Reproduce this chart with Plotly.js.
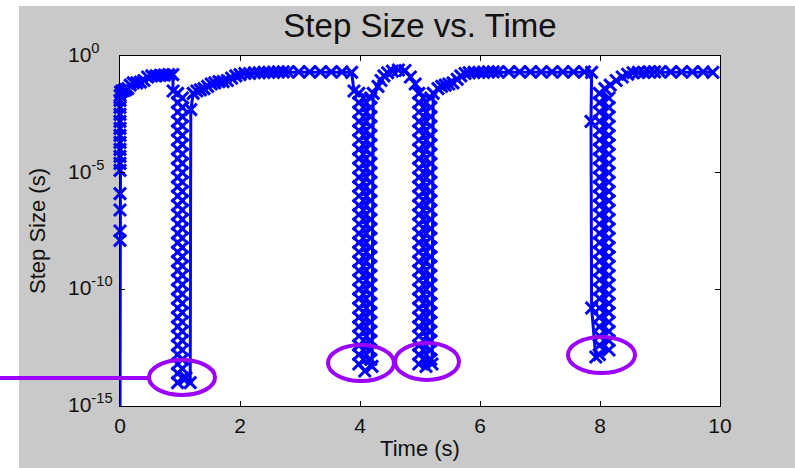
<!DOCTYPE html>
<html>
<head>
<meta charset="utf-8">
<script src="https://cdn.plot.ly/plotly-3.0.1.min.js"></script>
<style>html,body{margin:0;padding:0;background:#fff;}#chart{width:795px;height:468px;}</style>
</head>
<body>
<div id="chart"></div>
<script>
// ---- data (time in s, step size as log10 exponent) ----
const timeStart = [0,0,0,0,0,0,0,0,0,0,0,0,0,0,0,0,0.002,0.01,0.03,0.06,0.09,0.13,0.17,0.22,0.28,0.34,0.4,0.46,0.53,0.6,0.67,0.74,0.81,0.88];
const expStart  = [-16,-7.9,-7.5,-6.6,-5.9,-4.9,-4.6,-4.3,-4.0,-3.7,-3.4,-3.1,-2.8,-2.5,-2.2,-1.9,-1.7,-1.55,-1.5,-1.48,-1.45,-1.4,-1.25,-1.15,-1.15,-1.12,-1.05,-0.9,-0.85,-0.85,-0.83,-0.82,-0.8,-0.8];

const timeEvent1 = [0.885,
  0.96,1.04,0.96,1.04,0.96,1.04,0.96,1.04,0.96,1.04,0.96,1.04,0.96,1.04,0.96,1.04,0.96,1.04,0.96,1.04,
  0.96,1.04,0.96,1.04,0.96,1.04,0.96,1.04,0.96,1.04,0.96,1.04,0.96,1.04,0.96,1.04,0.96,1.04,0.96,1.04,
  0.96,1.04,0.96,1.04,0.96,1.04,0.96,1.04,0.96,1.04,0.96,1.04,0.96,1.04,0.96,1.04,0.96,1.04,0.96,1.04,
  0.96,1.04,0.96,
  1.1,1.17,1.18,1.22,1.28,1.34,1.4,1.46,1.52,1.58,1.65,1.72,1.79,1.86,1.93,2.0,2.08,2.16,2.24,2.32,2.4,2.48,2.56,2.64,2.72,2.8,2.98,3.16,3.34,3.52,3.7,3.86];
const expEvent1  = [-1.5,
  -1.6,-1.8,-2.0,-2.2,-2.4,-2.6,-2.8,-3.0,-3.2,-3.4,-3.6,-3.8,-4.0,-4.2,-4.4,-4.6,-4.8,-5.0,-5.2,-5.4,
  -5.6,-5.8,-6.0,-6.2,-6.4,-6.6,-6.8,-7.0,-7.2,-7.4,-7.6,-7.8,-8.0,-8.2,-8.4,-8.6,-8.8,-9.0,-9.2,-9.4,
  -9.6,-9.8,-10.0,-10.2,-10.4,-10.6,-10.8,-11.0,-11.2,-11.4,-11.6,-11.8,-12.0,-12.2,-12.4,-12.6,-12.8,-13.0,-13.2,-13.4,
  -13.6,-13.8,-14.0,
  -13.8,-14.0,-2.3,-1.6,-1.5,-1.45,-1.4,-1.3,-1.2,-1.15,-1.1,-1.1,-1.05,-0.95,-0.85,-0.8,-0.75,-0.75,-0.72,-0.72,-0.7,-0.7,-0.7,-0.68,-0.68,-0.68,-0.68,-0.68,-0.68,-0.68,-0.68,-0.7];

const timeEvent2 = [3.9,
  3.98,4.18,3.98,4.18,3.98,4.18,3.98,4.18,3.98,4.18,3.98,4.18,3.98,4.18,3.98,4.18,3.98,4.18,3.98,4.18,
  3.98,4.18,3.98,4.18,3.98,4.18,3.98,4.18,3.98,4.18,3.98,4.18,3.98,4.18,3.98,4.18,3.98,4.18,3.98,4.18,
  3.98,4.18,3.98,4.18,3.98,4.18,3.98,4.18,3.98,4.18,3.98,4.18,3.98,4.18,3.98,4.18,3.98,4.18,
  3.98,
  4.08,4.2,4.22,4.3,4.35,4.4,4.46,4.54,4.64,4.75,4.84,4.92];
const expEvent2  = [-1.5,
  -1.6,-1.8,-2.0,-2.2,-2.4,-2.6,-2.8,-3.0,-3.2,-3.4,-3.6,-3.8,-4.0,-4.2,-4.4,-4.6,-4.8,-5.0,-5.2,-5.4,
  -5.6,-5.8,-6.0,-6.2,-6.4,-6.6,-6.8,-7.0,-7.2,-7.4,-7.6,-7.8,-8.0,-8.2,-8.4,-8.6,-8.8,-9.0,-9.2,-9.4,
  -9.6,-9.8,-10.0,-10.2,-10.4,-10.6,-10.8,-11.0,-11.2,-11.4,-11.6,-11.8,-12.0,-12.2,-12.4,-12.6,-12.8,-13.0,
  -13.2,
  -13.5,-13.3,-1.6,-1.3,-1.05,-0.85,-0.72,-0.65,-0.6,-0.62,-0.9,-1.2];

const timeEvent3 = [
  4.98,5.18,4.98,5.18,4.98,5.18,4.98,5.18,4.98,5.18,4.98,5.18,4.98,5.18,4.98,5.18,4.98,5.18,4.98,5.18,
  4.98,5.18,4.98,5.18,4.98,5.18,4.98,5.18,4.98,5.18,4.98,5.18,4.98,5.18,4.98,5.18,4.98,5.18,4.98,5.18,
  4.98,5.18,4.98,5.18,4.98,5.18,4.98,5.18,4.98,5.18,4.98,5.18,4.98,5.18,4.98,5.18,4.98,5.18,
  4.98,
  5.1,5.2,5.22,5.3,5.36,5.42,5.48,5.55,5.62,5.68,5.75,5.82,5.9,5.98,6.06,6.14,6.22,6.3,6.48,6.66,6.84,7.02,7.2,7.38,7.56,7.74,7.86];
const expEvent3  = [
  -1.6,-1.8,-2.0,-2.2,-2.4,-2.6,-2.8,-3.0,-3.2,-3.4,-3.6,-3.8,-4.0,-4.2,-4.4,-4.6,-4.8,-5.0,-5.2,-5.4,
  -5.6,-5.8,-6.0,-6.2,-6.4,-6.6,-6.8,-7.0,-7.2,-7.4,-7.6,-7.8,-8.0,-8.2,-8.4,-8.6,-8.8,-9.0,-9.2,-9.4,
  -9.6,-9.8,-10.0,-10.2,-10.4,-10.6,-10.8,-11.0,-11.2,-11.4,-11.6,-11.8,-12.0,-12.2,-12.4,-12.6,-12.8,-13.0,
  -13.2,
  -13.3,-13.2,-1.6,-1.4,-1.3,-1.25,-1.2,-1.15,-1.0,-0.85,-0.75,-0.72,-0.7,-0.7,-0.7,-0.68,-0.68,-0.68,-0.68,-0.68,-0.68,-0.68,-0.68,-0.68,-0.68,-0.68,-0.7];

const timeEvent4 = [7.85,7.86,7.93,
  7.99,8.15,7.99,8.15,7.99,8.15,7.99,8.15,7.99,8.15,7.99,8.15,7.99,8.15,7.99,8.15,7.99,8.15,7.99,8.15,
  7.99,8.15,7.99,8.15,7.99,8.15,7.99,8.15,7.99,8.15,7.99,8.15,7.99,8.15,7.99,8.15,7.99,8.15,7.99,8.15,
  7.99,8.15,7.99,8.15,7.99,8.15,7.99,8.15,7.99,8.15,7.99,8.15,7.99,8.15,7.99,8.15,
  7.99,
  8.08,8.17,8.27,8.37,8.46,8.55,8.64,8.73,8.82,8.91,9.0,9.18,9.36,9.54,9.72,9.88];
const expEvent4  = [-2.8,-10.8,-12.9,
  -12.8,-12.6,-12.4,-12.2,-12.0,-11.8,-11.6,-11.4,-11.2,-11.0,-10.8,-10.6,-10.4,-10.2,-10.0,-9.8,-9.6,-9.4,-9.2,-9.0,
  -8.8,-8.6,-8.4,-8.2,-8.0,-7.8,-7.6,-7.4,-7.2,-7.0,-6.8,-6.6,-6.4,-6.2,-6.0,-5.8,-5.6,-5.4,-5.2,-5.0,
  -4.8,-4.6,-4.4,-4.2,-4.0,-3.8,-3.6,-3.4,-3.2,-3.0,-2.8,-2.6,-2.4,-2.2,-2.0,-1.8,
  -1.6,
  -1.4,-1.25,-1.05,-0.9,-0.78,-0.72,-0.7,-0.7,-0.68,-0.68,-0.68,-0.68,-0.68,-0.68,-0.68,-0.7];

const xTicks = [0, 2, 4, 6, 8, 10];
const yTickVals = [1e-15, 1e-10, 1e-5, 1];
const yTickText = ['10<sup>-15</sup>', '10<sup>-10</sup>', '10<sup>-5</sup>', '10<sup>0</sup>'];

// ---- assemble the single series in order ----
const segments = [[timeStart, expStart], [timeEvent1, expEvent1], [timeEvent2, expEvent2], [timeEvent3, expEvent3], [timeEvent4, expEvent4]];
const times = [], steps = [];
segments.forEach(([ts, es]) => ts.forEach((v, i) => { if (es[i] !== undefined) { times.push(v); steps.push(Math.pow(10, es[i])); } }));

const BLUE = '#0000ff', PURPLE = '#9b00ff', GRAY = '#c9c9c9';
const FONT = 'Liberation Sans, Arial, sans-serif';

// pixel helpers for decorations (plot area: x 120..720, y 56..406)
const px = x => (x - 120) / 600;
const py = y => (406 - y) / 350;

const trace = {
  x: times, y: steps, type: 'scatter', mode: 'lines+markers',
  line: {color: BLUE, width: 3},
  marker: {symbol: 'x-thin', size: 12, color: BLUE, line: {color: BLUE, width: 3}},
  cliponaxis: false, hoverinfo: 'skip'
};

const ellipse = (x0, x1, y0, y1) => ({type: 'circle', xref: 'paper', yref: 'paper', x0: px(x0), x1: px(x1), y0: py(y1), y1: py(y0), line: {color: PURPLE, width: 4}, layer: 'above'});

const layout = {
  width: 795, height: 468,
  margin: {l: 120, r: 75, t: 56, b: 62},
  paper_bgcolor: GRAY, plot_bgcolor: '#ffffff',
  font: {family: FONT, color: '#111111'},
  showlegend: false,
  title: {text: 'Step Size vs. Time', font: {size: 33, family: FONT, color: '#111111'}, x: 0.5, xref: 'paper', xanchor: 'center', y: 1 - 25 / 468, yref: 'container', yanchor: 'middle'},
  xaxis: {
    range: [0, 10], tickvals: xTicks, ticktext: xTicks.map(String),
    ticks: 'inside', ticklen: 5, tickcolor: '#000', mirror: 'ticks', showline: true, linecolor: '#000', linewidth: 1,
    showgrid: false, zeroline: false, tickfont: {size: 21, family: FONT, color: '#111111'}, ticklabelstandoff: 1,
    title: {text: 'Time (s)', font: {size: 22, family: FONT, color: '#111111'}, standoff: 4}
  },
  yaxis: {
    type: 'log', range: [-15, 0], tickvals: yTickVals,
    ticks: 'inside', ticklen: 5, tickcolor: '#000', mirror: 'ticks', showline: true, linecolor: '#000', linewidth: 1,
    showgrid: false, zeroline: false, showticklabels: false,
    title: {text: 'Step Size (s)', font: {size: 22, family: FONT, color: '#111111'}, standoff: 67}
  },
  annotations: yTickVals.map((v, i) => ({
    text: yTickText[i], xref: 'paper', yref: 'y', x: px(66), y: Math.log10(v), xanchor: 'left', yanchor: 'middle',
    showarrow: false, font: {size: 21, family: FONT, color: '#111111'}, yshift: 3
  })),
  shapes: [
    {type: 'rect', xref: 'paper', yref: 'paper', x0: px(-20), x1: px(19), y0: py(500), y1: py(-20), fillcolor: '#ffffff', line: {width: 0}, layer: 'above'},
    {type: 'rect', xref: 'paper', yref: 'paper', x0: px(-20), x1: px(820), y0: py(6), y1: py(-20), fillcolor: '#ffffff', line: {width: 0}, layer: 'above'},
    {type: 'line', xref: 'paper', yref: 'paper', x0: px(-5), x1: px(150), y0: py(378), y1: py(378), line: {color: PURPLE, width: 4}, layer: 'above'},
    ellipse(149, 215, 360, 395),
    ellipse(328, 394, 345, 381),
    ellipse(395, 459, 343, 380),
    ellipse(568, 635, 337, 373)
  ]
};

Plotly.newPlot('chart', [trace], layout, {displayModeBar: false, staticPlot: true});
</script>
</body>
</html>
